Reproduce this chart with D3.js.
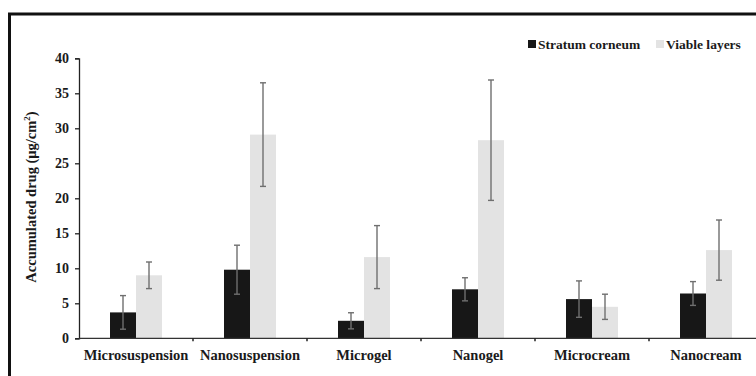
<!DOCTYPE html>
<html>
<head>
<meta charset="utf-8">
<script src="https://cdn.jsdelivr.net/npm/d3@7"></script>
<style>
  body { margin: 0; background: #fff; }
  text { font-family: "Liberation Serif", "Times New Roman", serif; font-weight: bold; fill: #1a1a1a; }
</style>
</head>
<body>
<div id="chart"></div>
<script>
// data
var categories = ["Microsuspension", "Nanosuspension", "Microgel", "Nanogel", "Microcream", "Nanocream"];
var seriesNames = ["Stratum corneum", "Viable layers"];
var stratumValues = [3.7, 9.8, 2.5, 7.0, 5.6, 6.4];
var stratumErrors = [2.4, 3.5, 1.15, 1.65, 2.6, 1.7];
var viableValues = [9.0, 29.1, 11.6, 28.3, 4.5, 12.6];
var viableErrors = [1.9, 7.4, 4.5, 8.6, 1.8, 4.3];
var yTicks = [0, 5, 10, 15, 20, 25, 30, 35, 40];

var width = 756, height = 376;
var margin = {top: 58.3, left: 79, bottom: 376 - 338.3};
var colors = {"Stratum corneum": "#171717", "Viable layers": "#e3e3e3"};

var data = categories.map(function (c, i) {
  return {
    key: c,
    bars: [
      {name: seriesNames[0], value: stratumValues[i], err: stratumErrors[i]},
      {name: seriesNames[1], value: viableValues[i], err: viableErrors[i]}
    ]
  };
});

var svg = d3.select("#chart").append("svg")
    .attr("width", width)
    .attr("height", height);

// outer frame (runs off the right and bottom edges)
svg.append("rect")
    .attr("x", 9.5).attr("y", 14)
    .attr("width", 800).attr("height", 420)
    .attr("fill", "none")
    .attr("stroke", "#111")
    .attr("stroke-width", 3);

var x0 = d3.scaleBand()
    .domain(categories)
    .range([margin.left, margin.left + 114 * 6]);

var y = d3.scaleLinear()
    .domain([0, 40])
    .range([height - margin.bottom, margin.top]);

var barW = 26;
var x1 = d3.scaleBand()
    .domain(seriesNames)
    .range([x0.bandwidth() / 2 - barW, x0.bandwidth() / 2 + barW]);

// y axis
var yAxis = d3.axisLeft(y).tickValues(yTicks).tickSize(4).tickSizeOuter(4);
var yg = svg.append("g")
    .attr("transform", "translate(" + margin.left + ",0)")
    .call(yAxis);
yg.select(".domain").attr("stroke", "#222").attr("stroke-width", 1.3);
yg.selectAll(".tick line").attr("stroke", "#222").attr("stroke-width", 1.3);
yg.selectAll(".tick text")
    .attr("x", -10)
    .attr("font-size", "14px")
    .attr("font-family", "Liberation Serif, serif")
    .attr("font-weight", "bold")
    .attr("fill", "#1a1a1a");

// groups of bars
var groups = svg.selectAll(".grp")
    .data(data)
    .enter().append("g")
    .attr("class", "grp")
    .attr("transform", function (d) { return "translate(" + x0(d.key) + ",0)"; });

groups.selectAll("rect")
    .data(function (d) { return d.bars; })
    .enter().append("rect")
    .attr("x", function (d) { return x1(d.name); })
    .attr("width", x1.bandwidth())
    .attr("y", function (d) { return y(d.value); })
    .attr("height", function (d) { return y(0) - y(d.value); })
    .attr("fill", function (d) { return colors[d.name]; });

// error bars
var eb = groups.selectAll(".err")
    .data(function (d) { return d.bars; })
    .enter().append("g")
    .attr("class", "err")
    .attr("stroke", "#6f6f6f")
    .attr("stroke-width", 1.4);
eb.append("line")
    .attr("x1", function (d) { return x1(d.name) + x1.bandwidth() / 2; })
    .attr("x2", function (d) { return x1(d.name) + x1.bandwidth() / 2; })
    .attr("y1", function (d) { return y(d.value + d.err); })
    .attr("y2", function (d) { return y(d.value - d.err); });
[1, -1].forEach(function (s) {
  eb.append("line")
      .attr("x1", function (d) { return x1(d.name) + x1.bandwidth() / 2 - 3; })
      .attr("x2", function (d) { return x1(d.name) + x1.bandwidth() / 2 + 3; })
      .attr("y1", function (d) { return y(d.value + s * d.err); })
      .attr("y2", function (d) { return y(d.value + s * d.err); });
});

// x axis
var xg = svg.append("g")
    .attr("transform", "translate(0," + y(0) + ")");
xg.append("line")
    .attr("x1", margin.left).attr("x2", margin.left + 114 * 6)
    .attr("stroke", "#333").attr("stroke-width", 1.3);
xg.selectAll(".xt")
    .data(categories.slice(1))
    .enter().append("line")
    .attr("x1", function (d) { return x0(d); })
    .attr("x2", function (d) { return x0(d); })
    .attr("y1", 0).attr("y2", 3)
    .attr("stroke", "#222").attr("stroke-width", 1.5);
xg.selectAll(".xl")
    .data(categories)
    .enter().append("text")
    .attr("x", function (d) { return x0(d) + x0.bandwidth() / 2; })
    .attr("y", 22)
    .attr("text-anchor", "middle")
    .attr("font-size", "14.5px")
    .text(function (d) { return d; });

// y axis title
svg.append("text")
    .attr("transform", "translate(36," + 197 + ") rotate(-90)")
    .attr("text-anchor", "middle")
    .attr("font-size", "14.5px")
    .html("Accumulated drug (μg/cm<tspan dy='-6' font-size='9px'>2</tspan><tspan dy='6'>)</tspan>");

// legend
var legend = svg.append("g").attr("transform", "translate(0,49)");
var legX = [528, 656];
seriesNames.forEach(function (n, i) {
  legend.append("rect")
      .attr("x", legX[i]).attr("y", -9)
      .attr("width", 8).attr("height", 8)
      .attr("fill", colors[n]);
  legend.append("text")
      .attr("x", legX[i] + 10).attr("y", 0)
      .attr("font-size", "13.5px")
      .text(n);
});
</script>
</body>
</html>
